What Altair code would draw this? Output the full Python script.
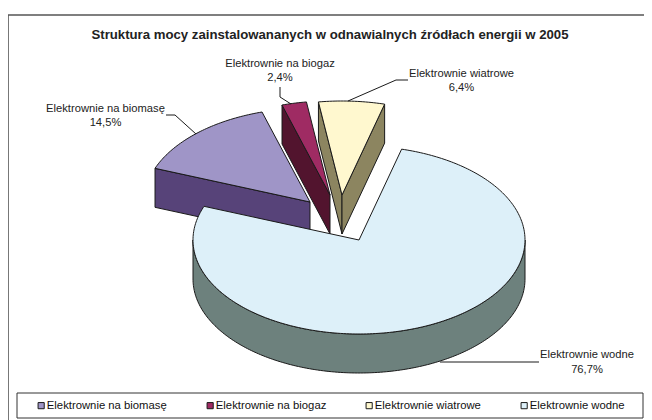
import math
import altair as alt

TITLE = "Struktura mocy zainstalowananych w odnawialnych źródłach energii w 2005"
categories = ["Elektrownie na biomasę", "Elektrownie na biogaz", "Elektrownie wiatrowe", "Elektrownie wodne"]
shares = [14.5, 2.4, 6.4, 76.7]
share_labels = ["14,5%", "2,4%", "6,4%", "76,7%"]
top_colors = ["#9F95C7", "#9F2B63", "#FFF8CF", "#DDF0F9"]
side_colors = ["#574379", "#52142E", "#8C8560", "#6D817D"]

# Layout of the tilted pie, in page pixels
OX, OY = 8, 8
W, H = 636, 412
A, B, DEPTH = 166, 94, 39
START = 291.0  # first slice starts here, degrees clockwise from 12 o'clock
apexes = [(310, 202), (330, 195), (342, 195), (359, 240)]
INK = "#1a1a1a"


def rim(cx, cy, a0, a1, dy=0):
    n = max(2, int(abs(a1 - a0)) + 1)
    out = []
    for i in range(n + 1):
        t = math.radians(a0 + (a1 - a0) * i / n)
        out.append([cx + A * math.sin(t), cy - B * math.cos(t) + dy])
    return out


def poly(pts):
    return {"type": "Feature", "properties": {},
            "geometry": {"type": "Polygon", "coordinates": [pts + [pts[0]]]}}


def line(pts):
    return {"type": "Feature", "properties": {},
            "geometry": {"type": "LineString", "coordinates": pts}}


PROJ = dict(type="identity", scale=1, translate=[-OX, -OY])

spans = []
a = START
for s in shares:
    spans.append((a, a + s * 3.6))
    a += s * 3.6

color_scale = alt.Scale(domain=categories, range=top_colors)


def side_layer(features, color):
    return alt.Chart(alt.Data(values=features)).mark_geoshape(
        fill=color, stroke=INK, strokeWidth=1, strokeJoin="round"
    ).project(**PROJ)


def wall(apex, angle):
    p = rim(apex[0], apex[1], angle, angle)[0]
    return poly([list(apex), p, [p[0], p[1] + DEPTH], [apex[0], apex[1] + DEPTH]])


def top_layer(i):
    cx, cy = apexes[i]
    pts = [[cx, cy]] + rim(cx, cy, spans[i][0], spans[i][1])
    f = poly(pts)
    f["properties"]["name"] = categories[i]
    return alt.Chart(alt.Data(values=[f])).mark_geoshape(
        stroke=INK, strokeWidth=1, strokeJoin="round"
    ).encode(
        fill=alt.Fill(
            "properties.name:N", scale=color_scale,
            legend=alt.Legend(
                title=None, orient="none", direction="horizontal", columns=4,
                gridAlign="none", legendX=35.5 - OX, legendY=400 - OY, columnPadding=37,
                symbolType="square", symbolSize=38, symbolStrokeColor=INK,
                symbolStrokeWidth=1, labelFont="Liberation Sans", labelFontSize=11.3,
                labelColor="#111111", labelOffset=0, padding=0,
                values=categories,
            ),
        )
    ).project(**PROJ)


# Frame and legend box
frame = alt.Chart(alt.Data(values=[line([[8, 420], [8, 15], [652, 15]])])).mark_geoshape(
    filled=False, stroke="#555555", strokeWidth=1.6).project(**PROJ)
legend_box = side_layer(
    [poly([[17, 393], [643, 393], [643, 418], [17, 418]])], "#ffffff"
).mark_geoshape(fill="#ffffff", stroke="#333333", strokeWidth=1)

biomass_wall = wall(apexes[0], spans[0][0])
biogas_wall = wall(apexes[1], spans[1][0])
wind_left = wall(apexes[2], spans[2][0])
wind_right = wall(apexes[2], spans[2][1])
cx, cy = apexes[3]
water_wall = poly(rim(cx, cy, 90, 270) + rim(cx, cy, 270, 90, DEPTH))

# Leader lines
leaders = [
    [[166, 115], [175, 115], [196, 134]],
    [[280, 87], [280, 97], [291, 104]],
    [[408, 80], [396, 80], [348, 101]],
    [[539, 362], [440, 362]],
]
leader_layer = alt.Chart(alt.Data(values=[line(p) for p in leaders])).mark_geoshape(
    filled=False, stroke=INK, strokeWidth=1
).project(**PROJ)

label_pos = [(105.5, 112, 126), (280, 67, 81), (461.5, 77, 91), (587, 358, 373)]


def text_layer(txt, x, y, size=11.2, weight="normal"):
    return alt.Chart(alt.Data(values=[{"t": txt}])).mark_text(
        font="Liberation Sans", fontSize=size, fontWeight=weight, color="#222222",
        align="center", baseline="alphabetic"
    ).encode(x=alt.value(x - OX), y=alt.value(y - OY), text="t:N")


layers = [
    frame,
    legend_box,
    side_layer([biogas_wall], side_colors[1]),
    side_layer([wind_left, wind_right], side_colors[2]),
    side_layer([biomass_wall], side_colors[0]),
    top_layer(1),
    top_layer(2),
    top_layer(0),
    side_layer([water_wall], side_colors[3]),
    top_layer(3),
    leader_layer,
    text_layer(TITLE, 330, 38.5, 13.2, "bold"),
]
for name, pct, (x, y1, y2) in zip(categories, share_labels, label_pos):
    layers.append(text_layer(name, x, y1))
    layers.append(text_layer(pct, x, y2))

chart = alt.layer(*layers).properties(
    width=W, height=H, padding=0, background="#ffffff",
    autosize=alt.AutoSizeParams(type="none"),
).configure_view(stroke=None)

chart.save("out.html", embed_options={"renderer": "svg", "actions": False})
